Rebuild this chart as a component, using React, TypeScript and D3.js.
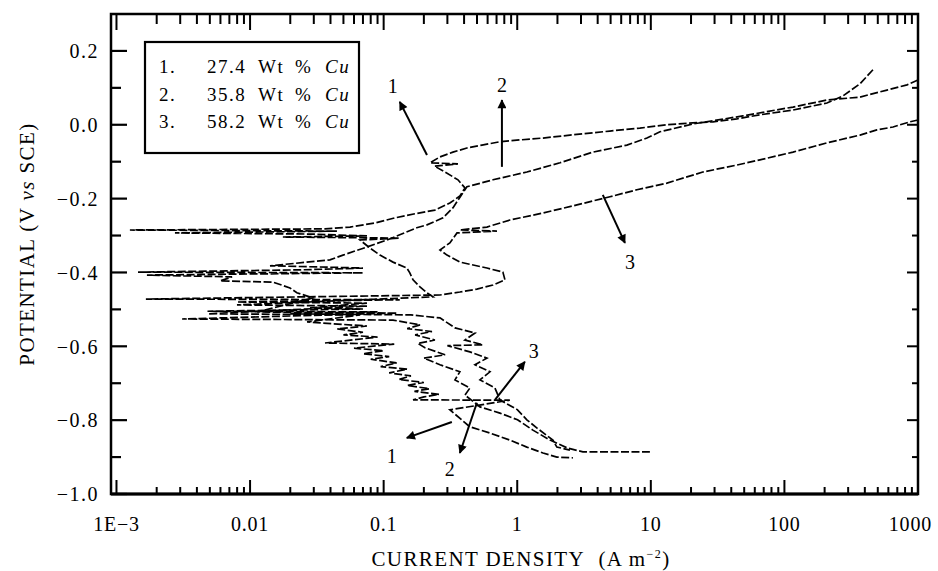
import * as d3 from "d3";

// tick labels
const xTicks = [1e-3, 0.01, 0.1, 1, 10, 100, 1000];
const xTickLabels = ["1E\u22123", "0.01", "0.1", "1", "10", "100", "1000"];
const yTicks = [-1.0, -0.8, -0.6, -0.4, -0.2, 0.0, 0.2];
const yTickLabels = ["\u22121.0", "\u22120.8", "\u22120.6", "\u22120.4", "\u22120.2", "0.0", "0.2"];
const yMinorTicks = [-0.9, -0.7, -0.5, -0.3, -0.1, 0.1];

// legend
const legendNums = ["1.", "2.", "3."];
const legendWt = ["27.4", "35.8", "58.2"];

// curves: [current density (A m^-2), potential (V vs SCE)]
const curve1: [number, number][] = [
  [460, 0.149], [368, 0.111], [274, 0.078], [208, 0.059], [163, 0.051], [116, 0.04],
  [65.6, 0.027], [44.1, 0.016], [29.2, 0.008], [20.6, 0.005], [13.2, 0.0], [8.28, -0.009],
  [4.94, -0.017], [2.48, -0.028], [1.56, -0.036], [1.05, -0.041], [0.742, -0.046],
  [0.545, -0.055], [0.42, -0.063], [0.33, -0.074], [0.264, -0.087], [0.222, -0.103],
  [0.36, -0.106], [0.24, -0.112], [0.288, -0.128], [0.36, -0.149], [0.406, -0.171],
  [0.372, -0.193], [0.313, -0.212], [0.242, -0.231], [0.172, -0.241], [0.122, -0.252],
  [0.0861, -0.266], [0.056, -0.277], [0.0364, -0.282], [0.00126, -0.285], [0.0447, -0.288],
  [0.00274, -0.293], [0.0281, -0.296], [0.075, -0.301], [0.0176, -0.304], [0.132, -0.307],
  [0.0665, -0.312], [0.079, -0.334], [0.0938, -0.353], [0.1175, -0.372], [0.149, -0.388],
  [0.157, -0.401], [0.166, -0.42], [0.187, -0.439], [0.211, -0.455], [0.234, -0.466],
  [0.00798, -0.488], [0.075, -0.491], [0.00484, -0.512], [0.0665, -0.515], [0.0267, -0.534],
  [0.0418, -0.539], [0.075, -0.545], [0.045, -0.553], [0.07, -0.562], [0.05, -0.569],
  [0.09, -0.575], [0.0364, -0.591], [0.12, -0.594], [0.06, -0.605], [0.1, -0.612],
  [0.07, -0.62], [0.11, -0.628], [0.08, -0.635], [0.125, -0.645], [0.095, -0.655],
  [0.15, -0.662], [0.11, -0.672], [0.16, -0.68], [0.13, -0.69], [0.2, -0.698],
  [0.15, -0.706], [0.22, -0.715], [0.17, -0.722], [0.26, -0.73], [0.2, -0.737],
  [0.166, -0.745], [0.88, -0.746], [0.313, -0.772], [0.442, -0.818], [0.625, -0.835],
  [0.881, -0.854], [1.18, -0.873], [1.56, -0.889], [1.98, -0.9], [2.61, -0.902],
];

const curve2: [number, number][] = [
  [1000, 0.121], [828, 0.108], [586, 0.094], [368, 0.075], [208, 0.067], [116, 0.048],
  [48.9, 0.024], [20.6, 0.002], [11.7, -0.019], [9.35, -0.036], [6.62, -0.055], [3.69, -0.074],
  [2.09, -0.103], [1.18, -0.128], [0.658, -0.149], [0.42, -0.168], [0.33, -0.225],
  [0.278, -0.252], [0.211, -0.271], [0.177, -0.279], [0.132, -0.298], [0.106, -0.312],
  [0.075, -0.331], [0.0496, -0.353], [0.0396, -0.366], [0.0141, -0.382], [0.07, -0.388],
  [0.0237, -0.393], [0.00145, -0.399], [0.07, -0.401], [0.00169, -0.407], [0.00733, -0.412],
  [0.00596, -0.423], [0.0148, -0.426], [0.0199, -0.442], [0.0224, -0.455], [0.0296, -0.469],
  [0.0113, -0.507], [0.126, -0.51], [0.0031, -0.526], [0.1175, -0.529], [0.187, -0.542],
  [0.15, -0.552], [0.23, -0.56], [0.172, -0.569], [0.242, -0.583], [0.18, -0.592],
  [0.204, -0.604], [0.288, -0.623], [0.2, -0.632], [0.264, -0.65], [0.372, -0.669],
  [0.342, -0.691], [0.442, -0.713], [0.406, -0.732], [0.526, -0.764], [0.742, -0.781],
  [1.005, -0.799], [1.31, -0.827], [1.76, -0.854], [2.36, -0.875], [3.1, -0.886],
  [9.84, -0.886],
];

const curve3: [number, number][] = [
  [1000, 0.013], [871, 0.008], [650, -0.006], [492, -0.014], [368, -0.028], [208, -0.049],
  [116, -0.074], [65.6, -0.095], [44.1, -0.109], [24.5, -0.128], [13.2, -0.158], [7.87, -0.176],
  [4.94, -0.195], [2.8, -0.217], [1.56, -0.239], [0.881, -0.258], [0.593, -0.277],
  [0.372, -0.285], [0.705, -0.288], [0.354, -0.293], [0.313, -0.32], [0.264, -0.339],
  [0.298, -0.353], [0.372, -0.372], [0.593, -0.388], [0.781, -0.399], [0.809, -0.42],
  [0.658, -0.434], [0.499, -0.445], [0.372, -0.453], [0.264, -0.461], [0.00166, -0.472],
  [0.132, -0.474], [0.00798, -0.48], [0.075, -0.483], [0.0281, -0.496], [0.07, -0.499],
  [0.0048, -0.505], [0.09, -0.507], [0.02, -0.512], [0.16, -0.515], [0.264, -0.523],
  [0.342, -0.55], [0.483, -0.564], [0.406, -0.583], [0.553, -0.596], [0.3, -0.598],
  [0.442, -0.615], [0.593, -0.632], [0.483, -0.65], [0.625, -0.669], [0.526, -0.691],
  [0.681, -0.713], [0.742, -0.745], [1.005, -0.772], [1.18, -0.799], [1.4, -0.821],
  [1.85, -0.854], [1.98, -0.873], [2.48, -0.881],
];

const curves = [curve1, curve2, curve3];

// annotation arrows and their numbers
const arrowFrom: [number, number][] = [
  [0.211, -0.082], [0.768, -0.114], [4.37, -0.19], [0.681, -0.745], [0.324, -0.805], [0.499, -0.753],
];
const arrowTo: [number, number][] = [
  [0.132, 0.062], [0.768, 0.067], [6.4, -0.32], [1.14, -0.642], [0.149, -0.848], [0.372, -0.889],
];
const arrowText = ["1", "2", "3", "3", "1", "2"];
const arrowTextAt: [number, number][] = [
  [0.117, 0.104], [0.768, 0.108], [6.98, -0.371], [1.33, -0.613], [0.115, -0.897], [0.313, -0.932],
];

const W = 938;
const H = 571;
const left = 111;
const right = 918;
const top = 14;
const bottom = 494;
const font = '"Liberation Serif", "DejaVu Serif", serif';

export default function App() {
  const x = d3.scaleLog().domain([10 ** -3.041, 1000]).range([left, right]);
  const y = d3.scaleLinear().domain([-1.0, 0.3]).range([bottom, top]);

  const line = d3
    .line<[number, number]>()
    .x((d) => x(d[0]))
    .y((d) => y(d[1]));

  const minorX: number[] = [];
  d3.range(-3, 3).forEach((p) => {
    for (let k = 2; k <= 9; k++) minorX.push(k * 10 ** p);
  });

  return (
    <svg
      width={W}
      height={H}
      style={{ position: "absolute", left: 0, top: 0, background: "#fff", fontFamily: font }}
    >
      <defs>
        <marker
          id="head"
          viewBox="0 0 10 10"
          refX="9"
          refY="5"
          markerWidth="5"
          markerHeight="4.5"
          orient="auto"
        >
          <path d="M0,0 L10,5 L0,10 z" fill="#000" />
        </marker>
      </defs>

      {/* curves */}
      {curves.map((c, i) => (
        <path
          key={i}
          d={line(c) as string}
          fill="none"
          stroke="#000"
          strokeWidth={1.7}
          strokeDasharray="8 2.5"
        />
      ))}

      {/* frame */}
      <rect
        x={left}
        y={top}
        width={right - left}
        height={bottom - top}
        fill="none"
        stroke="#000"
        strokeWidth={2.5}
      />
      <line x1={left} x2={right} y1={bottom} y2={bottom} stroke="#000" strokeWidth={3.2} />

      {/* x ticks */}
      {xTicks.map((t) => (
        <g key={`xt${t}`}>
          <line x1={x(t)} x2={x(t)} y1={bottom} y2={bottom - 14} stroke="#000" strokeWidth={2} />
          <line x1={x(t)} x2={x(t)} y1={top} y2={top + 16} stroke="#000" strokeWidth={2} />
        </g>
      ))}
      {minorX.map((t) => (
        <g key={`xm${t}`}>
          <line x1={x(t)} x2={x(t)} y1={bottom} y2={bottom - 7} stroke="#000" strokeWidth={2} />
          <line x1={x(t)} x2={x(t)} y1={top} y2={top + 10} stroke="#000" strokeWidth={2} />
        </g>
      ))}
      {xTicks.map((t, i) => {
        const last = i === xTicks.length - 1;
        return (
          <text
            key={`xl${t}`}
            x={last ? x(t) + 14 : x(t)}
            y={531}
            textAnchor={last ? "end" : "middle"}
            fontSize={20}
            letterSpacing={0.8}
          >
            {xTickLabels[i]}
          </text>
        );
      })}

      {/* y ticks */}
      {yTicks.map((t, i) => (
        <g key={`yt${t}`}>
          <line x1={left} x2={left + 16} y1={y(t)} y2={y(t)} stroke="#000" strokeWidth={2.2} />
          <line x1={right} x2={right - 11} y1={y(t)} y2={y(t)} stroke="#000" strokeWidth={2} />
          <text
            x={99}
            y={y(t)}
            dy="0.36em"
            textAnchor="end"
            fontSize={20}
            letterSpacing={1.5}
          >
            {yTickLabels[i]}
          </text>
        </g>
      ))}
      {yMinorTicks.map((t) => (
        <g key={`ym${t}`}>
          <line x1={left} x2={left + 10} y1={y(t)} y2={y(t)} stroke="#000" strokeWidth={2.2} />
          <line x1={right} x2={right - 6} y1={y(t)} y2={y(t)} stroke="#000" strokeWidth={2} />
        </g>
      ))}

      {/* axis titles */}
      <text x={521} y={566} textAnchor="middle" fontSize={21} letterSpacing={1.4}>
        CURRENT DENSITY{"\u00a0\u00a0"}(A m
        <tspan fontSize={12} dy={-8}>
          {"\u2212"}2
        </tspan>
        <tspan dy={8}>)</tspan>
      </text>
      <text
        transform={`translate(34, 244) rotate(-90)`}
        textAnchor="middle"
        fontSize={21}
        letterSpacing={1.4}
      >
        POTENTIAL (V <tspan fontStyle="italic">vs</tspan> SCE)
      </text>

      {/* legend */}
      <rect x={145} y={42} width={214} height={111} fill="#fff" stroke="#000" strokeWidth={2.2} />
      {legendNums.map((n, i) => (
        <text key={`lg${n}`} y={73 + i * 27.5} fontSize={19} letterSpacing={1.5}>
          <tspan x={159}>{n}</tspan>
          <tspan x={207}>{legendWt[i]}</tspan>
          <tspan x={258}>Wt</tspan>
          <tspan x={295}>%</tspan>
          <tspan x={325} fontStyle="italic">
            Cu
          </tspan>
        </text>
      ))}

      {/* annotation arrows */}
      {arrowFrom.map((f, i) => (
        <line
          key={`ar${i}`}
          x1={x(f[0])}
          y1={y(f[1])}
          x2={x(arrowTo[i][0])}
          y2={y(arrowTo[i][1])}
          stroke="#000"
          strokeWidth={2}
          markerEnd="url(#head)"
        />
      ))}
      {arrowText.map((t, i) => (
        <text
          key={`at${i}`}
          x={x(arrowTextAt[i][0])}
          y={y(arrowTextAt[i][1])}
          dy="0.35em"
          textAnchor="middle"
          fontSize={20}
        >
          {t}
        </text>
      ))}
    </svg>
  );
}
